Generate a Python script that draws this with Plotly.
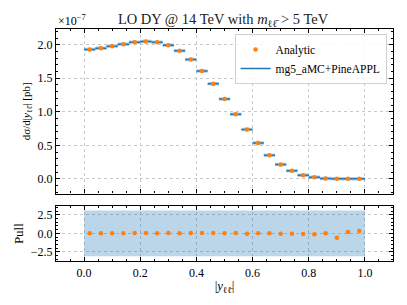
import plotly.graph_objects as go

# ---- data ----
bin_lo = [round(0.04 * i, 2) for i in range(25)]
bin_hi = [round(0.04 * (i + 1), 2) for i in range(25)]
bin_center = [round(0.04 * i + 0.02, 2) for i in range(25)]
# dsigma/d|y| in units of 1e-7 pb
analytic = [1.930, 1.949, 1.979, 2.009, 2.039, 2.049, 2.039, 1.994, 1.909, 1.780,
            1.610, 1.420, 1.190, 0.962, 0.737, 0.533, 0.353, 0.214, 0.120, 0.054,
            0.025, 0.005, 0.001, 0.000, 0.000]
mg5 = list(analytic)
pull = [0.0, 0.0, 0.0, 0.0, 0.04, 0.04, 0.0, 0.04, 0.0, 0.04,
        0.04, 0.04, 0.0, 0.04, -0.04, 0.0, 0.0, -0.04, -0.04, -0.09,
        -0.13, 0.0, -0.59, 0.18, 0.32]

ORANGE = "#ff7f0e"
BLUE = "#1f77b4"
FONT = "Liberation Serif"

fig = go.Figure()

# mg5 horizontal bin segments
seg_x, seg_y = [], []
for lo, hi, v in zip(bin_lo, bin_hi, mg5):
    seg_x += [lo, hi, None]
    seg_y += [v, v, None]
fig.add_trace(go.Scatter(x=seg_x, y=seg_y, mode="lines",
                         line=dict(color="rgba(31,119,180,0.35)", width=3.5),
                         showlegend=False, hoverinfo="skip", xaxis="x", yaxis="y"))
fig.add_trace(go.Scatter(x=seg_x, y=seg_y, mode="lines",
                         line=dict(color=BLUE, width=1.5),
                         name="mg5_aMC+PineAPPL", xaxis="x", yaxis="y"))
fig.add_trace(go.Scatter(x=bin_center, y=analytic, mode="markers",
                         marker=dict(color=ORANGE, size=4.5),
                         name="Analytic", xaxis="x", yaxis="y"))

# pull band
fig.add_trace(go.Scatter(x=[0, 1, 1, 0, 0], y=[-3.1, -3.1, 3.1, 3.1, -3.1],
                         mode="lines", fill="toself",
                         fillcolor="rgba(31,119,180,0.3)", line=dict(width=0),
                         showlegend=False, hoverinfo="skip", xaxis="x2", yaxis="y2"))
fig.add_trace(go.Scatter(x=bin_center, y=pull, mode="markers",
                         marker=dict(color=ORANGE, size=4.5),
                         showlegend=False, xaxis="x2", yaxis="y2"))

axis_common = dict(
    showline=True, linecolor="black", linewidth=1.2, mirror="allticks",
    ticks="inside", ticklen=4, tickwidth=1, tickcolor="black",
    showgrid=True, gridcolor="#c8c8c8", griddash="dot", gridwidth=0.7,
    zeroline=False, automargin=False,
    tickfont=dict(family=FONT, size=12, color="black"),
)

# page body has an 8px default margin, so the figure is sized to fit 399x297
W, H = 399, 297
fig.update_layout(
    width=W, height=H,
    margin=dict(l=47.7, r=13.5, t=21.3, b=43.5, pad=0, autoexpand=False),
    paper_bgcolor="white", plot_bgcolor="white",
    font=dict(family=FONT, color="black"),
    title=dict(text="LO DY @ 14 TeV with <i>m</i><sub>ℓℓ\u0304</sub> > 5 TeV",
               x=0.539, xanchor="center", y=0.963, yanchor="middle",
               font=dict(family=FONT, size=14.5, color="#222")),
    xaxis=dict(domain=[0, 1], anchor="y", range=[-0.1, 1.1], autorange=False,
               showticklabels=False, tickvals=[0.0, 0.2, 0.4, 0.6, 0.8, 1.0],
               minor=dict(dtick=0.05, ticks="inside", ticklen=2, showgrid=False),
               **axis_common),
    yaxis=dict(domain=[0.2907, 1], anchor="x", range=[-0.22, 2.235], autorange=False,
               tickvals=[0.0, 0.5, 1.0, 1.5, 2.0],
               ticktext=["0.0", "0.5", "1.0", "1.5", "2.0"],
               minor=dict(dtick=0.1, ticks="inside", ticklen=2, showgrid=False),
               title=dict(text="dσ/d|<i>y</i><sub>ℓℓ\u0304</sub>| [pb]",
                          font=dict(family=FONT, size=11), standoff=4),
               **axis_common),
    xaxis2=dict(domain=[0, 1], anchor="y2", range=[-0.1, 1.1], autorange=False,
                tickvals=[0.0, 0.2, 0.4, 0.6, 0.8, 1.0],
                ticktext=["0.0", "0.2", "0.4", "0.6", "0.8", "1.0"],
                minor=dict(dtick=0.05, ticks="inside", ticklen=2, showgrid=False),
                title=dict(text="|<i>y</i><sub>ℓℓ\u0304</sub>|",
                           font=dict(family=FONT, size=13), standoff=2),
                **axis_common),
    yaxis2=dict(domain=[0, 0.236], anchor="x2", range=[-3.74, 3.66], autorange=False,
                tickvals=[-2.5, 0.0, 2.5], ticktext=["\u22122.5", "0.0", "2.5"],
                minor=dict(dtick=0.5, ticks="inside", ticklen=2, showgrid=False),
                title=dict(text="Pull", font=dict(family=FONT, size=13), standoff=4),
                **axis_common),
    legend=dict(x=0.981, xanchor="right", y=0.978, yanchor="top",
                bgcolor="rgba(255,255,255,0.85)", bordercolor="#d0d0d0", borderwidth=1,
                font=dict(family=FONT, size=11.5), traceorder="reversed",
                itemwidth=30, tracegroupgap=0),
    annotations=[dict(text="×10<sup>\u22127</sup>", xref="paper", yref="paper",
                      x=0.0, xanchor="left", y=1.0, yanchor="bottom", yshift=-1,
                      showarrow=False, font=dict(family=FONT, size=12))],
    showlegend=True,
)

fig.write_html("out.html")
